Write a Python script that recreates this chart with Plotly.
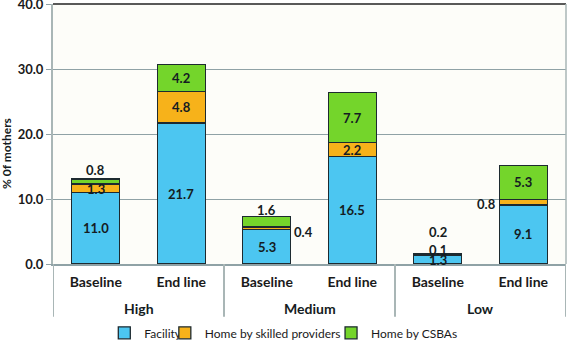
import plotly.graph_objects as go

# ---- data ----
groups = ["High", "High", "Medium", "Medium", "Low", "Low"]
periods = ["Baseline", "End line", "Baseline", "End line", "Baseline", "End line"]
facility = [11.0, 21.7, 5.3, 16.5, 1.3, 9.1]
skilled = [1.3, 4.8, 0.4, 2.2, 0.1, 0.8]
csba = [0.8, 4.2, 1.6, 7.7, 0.2, 5.3]
series_names = ["Facility", "Home by skilled providers", "Home by CSBAs"]
y_ticks = [0, 10, 20, 30, 40]
y_title = "% 0f mothers"

# ---- style ----
colors = ["#4cc6f1", "#f7b21a", "#74d52b"]
FONT = "Lato"
TXT = "#151c22"
AXIS_GRAY = "#a9b6b6"
placement = [
    [("mid", 0, 0)] * 6,
    [("mid", 0, -1), ("mid", 0, 0), ("mid", 37, -4), ("mid", 0, 0), ("top", 0, 4), ("mid", -37, -2)],
    [("top", 0, 9), ("mid", 0, 0), ("top", 0, 7), ("mid", 0, 0), ("top", 0, 22), ("mid", 0, 0)],
]
legend_ids = ["legend", "legend2", "legend3"]
legend_x = [0.100, 0.218, 0.542]

values = [facility, skilled, csba]
xpos = list(range(len(periods)))  # category index positions

fig = go.Figure()
for name, vals, col, lg in zip(series_names, values, colors, legend_ids):
    fig.add_trace(go.Bar(
        x=xpos, y=vals, name=name, legend=lg,
        customdata=[[g, p] for g, p in zip(groups, periods)],
        hovertemplate="%{customdata[0]} – %{customdata[1]}<br>" + name + ": %{y:.1f}<extra></extra>",
        marker=dict(color=col, line=dict(color="#1d2a30", width=1.3)),
    ))

annotations = []
# value labels
for i in xpos:
    cum = 0.0
    total = sum(v[i] for v in values)
    for s, vals in enumerate(values):
        mode, dx, dy = placement[s][i]
        y = cum + vals[i] / 2 if mode == "mid" else total
        annotations.append(dict(
            x=i, y=y, xref="x", yref="y", text=f"{vals[i]:.1f}", showarrow=False,
            xshift=dx, yshift=dy, font=dict(family=FONT, size=13, color=TXT, weight="bold"),
        ))
        cum += vals[i]

# group labels (second level of the category axis) and dividers
shapes = []
group_order = list(dict.fromkeys(groups))
boundaries = [-0.5]
for g in group_order:
    idx = [i for i, gg in enumerate(groups) if gg == g]
    annotations.append(dict(
        x=sum(idx) / len(idx), y=-0.171, xref="x", yref="paper", text=g, showarrow=False,
        yanchor="middle", font=dict(family=FONT, size=14, color=TXT, weight="bold"),
    ))
    boundaries.append(max(idx) + 0.5)
for b in boundaries:
    shapes.append(dict(type="line", xref="x", yref="paper", x0=b, x1=b, y0=0, y1=-0.203,
                       line=dict(color=AXIS_GRAY, width=2)))

# y-axis title
annotations.append(dict(
    x=0, y=0.423, xref="paper", yref="paper", xshift=-47, text=y_title, textangle=-90,
    showarrow=False, xanchor="center", yanchor="middle",
    font=dict(family=FONT, size=12, color=TXT, weight="bold"),
))

# frame: dark top line, grey right line
shapes += [
    dict(type="line", xref="paper", yref="paper", x0=0, x1=1, y0=1, y1=1,
         line=dict(color="#222222", width=1.5)),
    dict(type="line", xref="paper", yref="paper", x0=1, x1=1, y0=0, y1=1,
         line=dict(color=AXIS_GRAY, width=1.5)),
]

legend_common = dict(orientation="h", xanchor="left", yref="container", y=0.021, yanchor="middle",
                     font=dict(family=FONT, size=12, color="#1a1a1a"), itemwidth=30,
                     bgcolor="rgba(0,0,0,0)")
fig.update_layout(
    barmode="stack",
    bargap=0.44,
    width=567, height=340,
    margin=dict(l=53, r=1, t=4, b=76),
    paper_bgcolor="white",
    plot_bgcolor="#fdfdf9",
    font=dict(family=FONT, size=13, color="#1a1a1a"),
    showlegend=True,
    legend=dict(x=legend_x[0], **legend_common),
    legend2=dict(x=legend_x[1], **legend_common),
    legend3=dict(x=legend_x[2], **legend_common),
    annotations=annotations,
    shapes=shapes,
)
fig.update_yaxes(
    range=[0, 40.02], tickvals=y_ticks, tickformat=".1f", automargin=False,
    ticklabeloverflow="allow",
    gridcolor="#8fa2a6", gridwidth=1.2, zeroline=False,
    showline=True, linecolor=AXIS_GRAY, linewidth=2,
    ticks="outside", ticklen=5, tickcolor="#8fa2a6",
    tickfont=dict(family=FONT, size=13, color="#1a1a1a", weight="bold"),
)
fig.update_xaxes(
    range=[-0.5, len(periods) - 0.5], tickvals=xpos, ticktext=periods,
    showgrid=False, zeroline=False, automargin=False,
    showline=True, linecolor="#8fa2a6", linewidth=1.5,
    ticks="", ticklabelstandoff=4,
    tickfont=dict(family=FONT, size=14, color="#1a1a1a", weight="bold"),
)

fig.write_html("out.html", config={"displayModeBar": False},
               post_script="document.body.style.margin='0';")
